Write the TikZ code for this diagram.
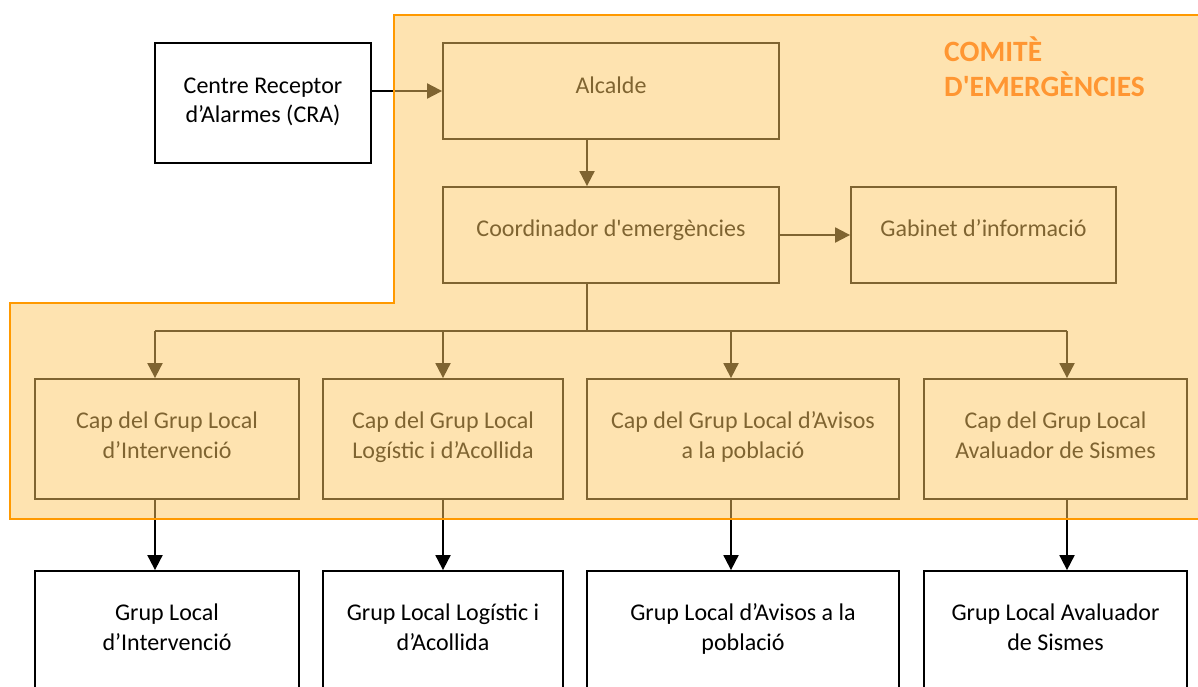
\documentclass[tikz,border=0pt]{standalone}
\usepackage{fontspec}
\setmainfont{Carlito}
\usetikzlibrary{arrows.meta}
\definecolor{ovl}{RGB}{254,200,98}
\definecolor{ovlborder}{RGB}{255,153,0}
\definecolor{titlecol}{RGB}{255,150,50}
\tikzset{
  box/.style={draw=black, line width=1.8pt, inner sep=0pt},
  lbl/.style={align=center, font=\fontsize{24}{29.5}\selectfont, inner sep=0pt, text=black},
  conn/.style={draw=black, line width=1.9pt},
  arr/.style={conn, -{Triangle[length=15pt,width=15pt]}},
}
\begin{document}
\begin{tikzpicture}[x=1pt,y=-1pt]
\path[use as bounding box] (0,0) rectangle (1198,686);

% boxes
\node[box, minimum width=216, minimum height=120] (cra) at (263,103) {};
\node[box, minimum width=336, minimum height=96] (alc) at (611,91) {};
\node[box, minimum width=336, minimum height=96] (coord) at (611,235) {};
\node[box, minimum width=265, minimum height=96] (gab) at (983.5,235) {};
\node[box, minimum width=264, minimum height=120] (cap1) at (167,439) {};
\node[box, minimum width=240, minimum height=120] (cap2) at (443,439) {};
\node[box, minimum width=312, minimum height=120] (cap3) at (743,439) {};
\node[box, minimum width=263, minimum height=120] (cap4) at (1055.5,439) {};
\node[box, minimum width=264, minimum height=120] (grp1) at (167,631) {};
\node[box, minimum width=240, minimum height=120] (grp2) at (443,631) {};
\node[box, minimum width=312, minimum height=120] (grp3) at (743,631) {};
\node[box, minimum width=263, minimum height=120] (grp4) at (1055.5,631) {};

% texts
\node[lbl] (tcra) at (263,102) {\strut Centre Receptor\\\strut d’Alarmes (CRA)};
\node[lbl] (talc) at (611,87.5) {\strut Alcalde};
\node[lbl] (tcoord) at (611,230.5) {\strut Coordinador d\textquotesingle emergències};
\node[lbl] (tgab) at (983.5,230.5) {\strut Gabinet d’informació};
\node[lbl] (tcap1) at (167,437.5) {\strut Cap del Grup Local\\\strut d’Intervenció};
\node[lbl] (tcap2) at (443,437.5) {\strut Cap del Grup Local\\\strut Logístic i d’Acollida};
\node[lbl] (tcap3) at (743,437.5) {\strut Cap del Grup Local d’Avisos\\\strut a la població};
\node[lbl] (tcap4) at (1055.5,437.5) {\strut Cap del Grup Local\\\strut Avaluador de Sismes};
\node[lbl] (tgrp1) at (167,629.5) {\strut Grup Local\\\strut d’Intervenció};
\node[lbl] (tgrp2) at (443,629.5) {\strut Grup Local Logístic i\\\strut d’Acollida};
\node[lbl] (tgrp3) at (743,629.5) {\strut Grup Local d’Avisos a la\\\strut població};
\node[lbl] (tgrp4) at (1055.5,629.5) {\strut Grup Local Avaluador\\\strut de Sismes};

% connectors
\coordinate (trunk) at (587,331);
\coordinate (b1) at (155,331);
\coordinate (b2) at (443,331);
\coordinate (b3) at (731,331);
\coordinate (b4) at (1067,331);

\draw[arr] (cra.east |- alc.west) -- (alc.west);
\draw[arr] (trunk |- alc.south) -- (trunk |- coord.north);
\draw[arr] (coord.east) -- (gab.west);
\draw[conn] (trunk |- coord.south) -- (trunk);
\draw[conn] (b1) -- (b4);
\draw[arr] (b1) -- (b1 |- cap1.north);
\draw[arr] (b2) -- (b2 |- cap2.north);
\draw[arr] (b3) -- (b3 |- cap3.north);
\draw[arr] (b4) -- (b4 |- cap4.north);
\draw[arr] (b1 |- cap1.south) -- (b1 |- grp1.north);
\draw[arr] (b2 |- cap2.south) -- (b2 |- grp2.north);
\draw[arr] (b3 |- cap3.south) -- (b3 |- grp3.north);
\draw[arr] (b4 |- cap4.south) -- (b4 |- grp4.north);

% committee overlay
\fill[ovl, fill opacity=0.5] (394,15) -- (1210,15) -- (1210,519) -- (10,519) -- (10,303) -- (394,303) -- cycle;
\draw[ovlborder, line width=1.5pt] (1210,15) -- (394,15) -- (394,303) -- (10,303) -- (10,519) -- (1210,519);

\node[font=\bfseries\fontsize{29.5}{35.5}\selectfont, text=titlecol, align=left, anchor=west, inner sep=0pt] (title) at (944,66.5) {COMITÈ\\D\textquotesingle EMERGÈNCIES};
\end{tikzpicture}
\end{document}
